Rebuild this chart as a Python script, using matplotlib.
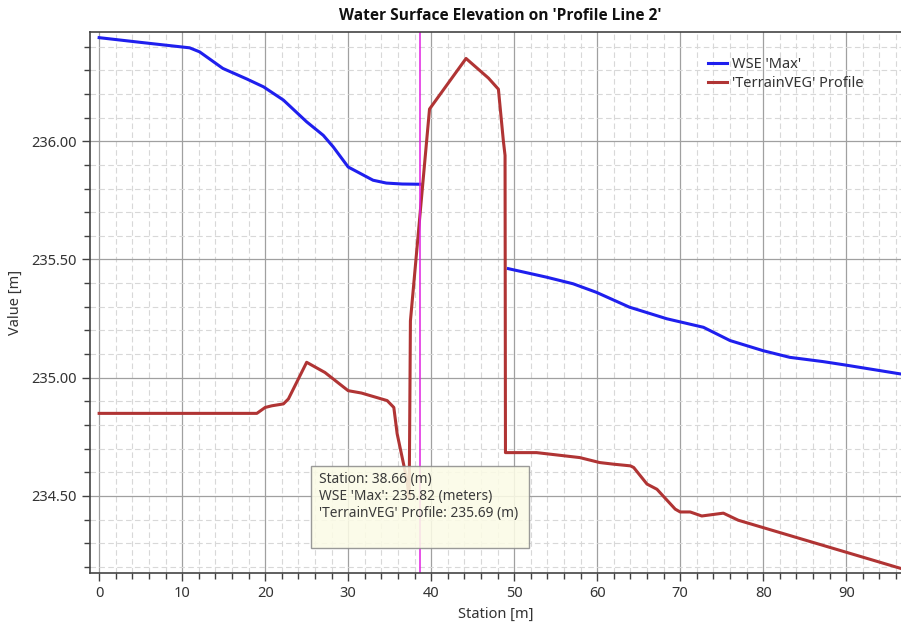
import numpy as np
import matplotlib
matplotlib.use("Agg")
import matplotlib.pyplot as plt
from matplotlib.ticker import MultipleLocator, FormatStrFormatter
from matplotlib.patches import Rectangle

plt.rcParams['font.family'] = ['Noto Sans', 'DejaVu Sans']

# WSE 'Max' - upstream side of the embankment
wse_up_x = [0, 5, 10.9, 12.1, 14.9, 17.8, 19.8, 22.2, 25.0, 27.0, 28.2, 30.0, 33.0, 34.6, 36.5, 38.66]
wse_up_y = [236.438, 236.418, 236.395, 236.378, 236.308, 236.263, 236.23, 236.174, 236.082, 236.025,
            235.976, 235.891, 235.835, 235.823, 235.819, 235.818]

# WSE 'Max' - downstream side
wse_dn_x = [49.3, 53.9, 57.1, 59.9, 63.9, 68.4, 72.8, 76.0, 80.0, 83.2, 87.2, 89.8, 96.5]
wse_dn_y = [235.461, 235.425, 235.397, 235.361, 235.298, 235.249, 235.213, 235.157, 235.114,
            235.086, 235.068, 235.054, 235.016]

# 'TerrainVEG' profile
terr_x = [0, 19.0, 20.0, 20.8, 22.2, 22.8, 25.0, 27.2, 30.0, 31.6, 34.7, 35.5, 35.9, 37.1, 37.35,
          37.5, 39.8, 44.2, 46.9, 48.1, 48.7, 48.9, 48.95, 52.7, 57.9, 60.3, 62.0, 64.0, 64.4, 66.0,
          67.2, 69.4, 70.0, 71.2, 72.6, 75.2, 77.0, 96.5]
terr_y = [234.849, 234.849, 234.874, 234.881, 234.889, 234.91, 235.065, 235.022, 234.945, 234.935,
          234.903, 234.874, 234.763, 234.564, 234.49, 235.24, 236.136, 236.35, 236.267, 236.22,
          236.0, 235.94, 234.683, 234.683, 234.662, 234.641, 234.634, 234.627, 234.62, 234.55,
          234.528, 234.444, 234.432, 234.432, 234.415, 234.427, 234.397, 234.194]

cursor_station = 38.66
tooltip_lines = ["Station: 38.66 (m)",
                 "WSE 'Max': 235.82 (meters)",
                 "'TerrainVEG' Profile: 235.69 (m)"]

fig = plt.figure(figsize=(9.01, 6.32), dpi=100)
ax = fig.add_axes([0.0999, 0.0934, 0.9001, 0.8560])

# grid: solid majors, dashed minors
ax.xaxis.set_major_locator(MultipleLocator(10))
ax.xaxis.set_minor_locator(MultipleLocator(2))
ax.yaxis.set_major_locator(MultipleLocator(0.5))
ax.yaxis.set_minor_locator(MultipleLocator(0.1))
ax.yaxis.set_major_formatter(FormatStrFormatter('%.2f'))
ax.grid(which='major', color='#a0a0a0', linewidth=0.9)
ax.grid(which='minor', color='#d8d8d8', linewidth=0.8, linestyle=(0, (5, 3)))
ax.set_axisbelow(True)

ax.plot(wse_up_x, wse_up_y, color='#1f1fee', linewidth=2.2, label="WSE 'Max'",
        solid_joinstyle='round')
ax.plot(wse_dn_x, wse_dn_y, color='#1f1fee', linewidth=2.2, solid_joinstyle='round')
ax.plot(terr_x, terr_y, color='#b03434', linewidth=2.2, label="'TerrainVEG' Profile")

ax.axvline(cursor_station, color='#e020e0', linewidth=1.1)

ax.set_xlim(-1.1, 96.6)
ax.set_ylim(234.174, 236.462)

ax.tick_params(which='major', direction='out', length=6, width=1, color='#404040',
               labelsize=10.5, labelcolor='#333333')
ax.tick_params(which='minor', direction='out', length=4, width=1, color='#404040')
for side in ['left', 'bottom', 'top']:
    ax.spines[side].set_color('#444444')
    ax.spines[side].set_linewidth(1.2)
ax.spines['right'].set_visible(False)

ax.set_xlabel('Station [m]', fontsize=10.5, color='#333333', labelpad=4)
ax.set_ylabel('Value [m]', fontsize=10.5, color='#333333', labelpad=6)
fig.text(0.555, 0.975, "Water Surface Elevation on 'Profile Line 2'", ha='center', va='center',
         fontsize=11.2, fontweight='bold', color='#111111', family=['Open Sans', 'DejaVu Sans'])

leg = ax.legend(loc='upper left', bbox_to_anchor=(0.755, 0.965), frameon=False, fontsize=10.5,
                handlelength=1.3, handletextpad=0.35, labelspacing=0.3, borderaxespad=0)
for t in leg.get_texts():
    t.set_color('#333333')

# hover tooltip
box = Rectangle((0.273, 0.046), 0.268, 0.152, transform=ax.transAxes, facecolor='#fbfbe6',
                edgecolor='#8c8c8c', linewidth=1, alpha=0.88, zorder=5)
ax.add_patch(box)
for i, line in enumerate(tooltip_lines):
    ax.text(0.282, 0.186 - i * 0.0315, line, transform=ax.transAxes, fontsize=9.9,
            color='#3a3a3a', ha='left', va='top', zorder=6)

fig.savefig('out.png', dpi=100)
